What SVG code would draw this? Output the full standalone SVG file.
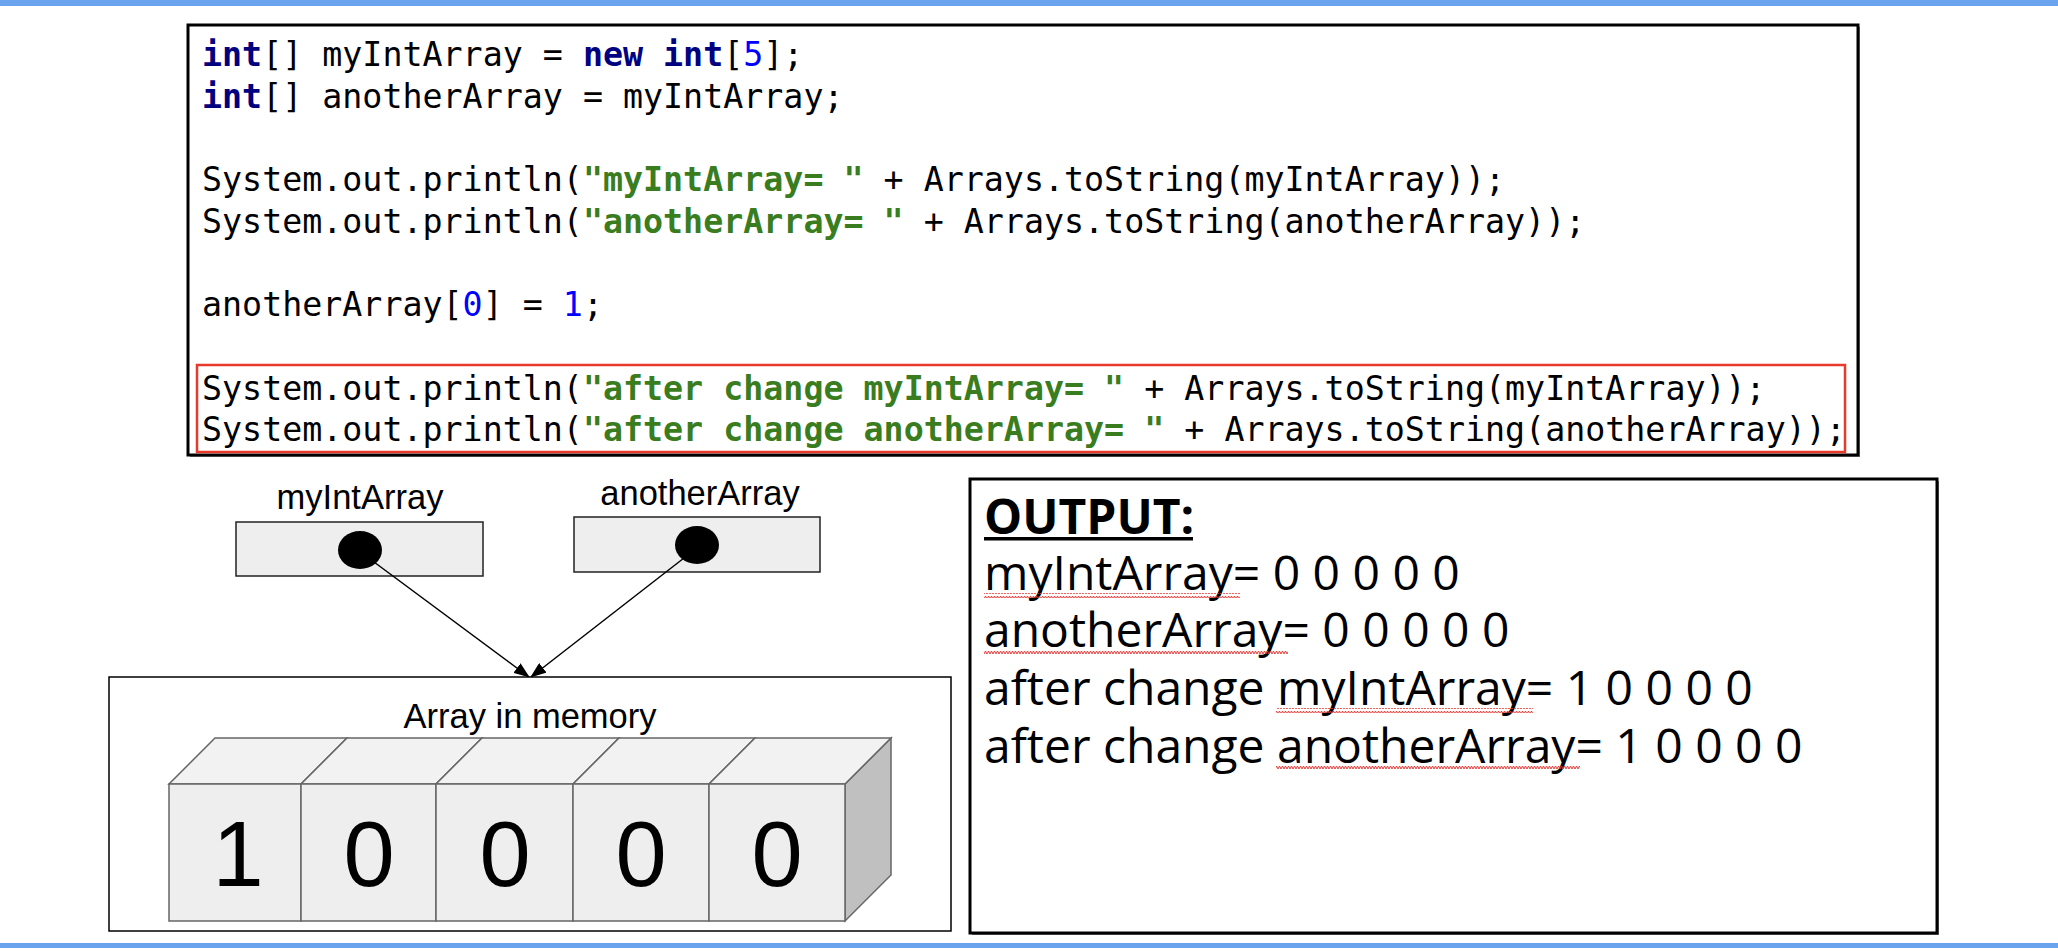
<svg xmlns="http://www.w3.org/2000/svg" width="2058" height="952" viewBox="0 0 2058 952">
<style>
.code{font-family:"DejaVu Sans Mono","Liberation Mono",monospace;font-size:33.3px;fill:#000}
.kw{fill:#000080;font-weight:bold}
.num{fill:#0000ff}
.str{fill:#3a7d1f;font-weight:bold}
.lbl{font-family:"Liberation Sans",Arial,sans-serif;font-size:34.5px;fill:#000;text-anchor:middle}
.big{font-family:"Liberation Sans",Arial,sans-serif;font-size:92px;fill:#000;text-anchor:middle}
.out{font-family:"Open Sans","Noto Sans",sans-serif;font-size:48px;fill:#000}
.var{fill:#eeeeee;stroke:#222;stroke-width:1.5}
.front{fill:#eeeeee;stroke:#666;stroke-width:1.5}
.top{fill:#f2f2f2;stroke:#666;stroke-width:1.5}
.side{fill:#c0c0c0;stroke:#666;stroke-width:1.5}
.conn{stroke:#000;stroke-width:1.5;fill:none}
</style>
<defs>
<marker id="arr" markerUnits="userSpaceOnUse" markerWidth="16" markerHeight="12" refX="15" refY="6" orient="auto">
<path d="M0,0 L16,6 L0,12 Z" fill="#000"/>
</marker>
<pattern id="sq" width="6" height="5" patternUnits="userSpaceOnUse">
<path d="M0,4 L1.5,1 L3,4 L4.5,1 L6,4" fill="none" stroke="#e53935" stroke-width="1"/>
</pattern>
</defs>
<rect x="0" y="0" width="2058" height="952" fill="#fff"/>
<rect x="0" y="0" width="2058" height="6" fill="#6aa4ee"/>
<rect x="0" y="943" width="2058" height="5" fill="#6aa4ee"/>

<g id="code">
<rect x="190" y="27" width="1670" height="430" fill="#888"/>
<rect x="188" y="25" width="1670" height="430" fill="#fff" stroke="#000" stroke-width="3"/>
<rect x="197" y="365" width="1648" height="87" fill="none" stroke="#e8392b" stroke-width="2.5"/>
<text class="code" x="202" y="66"><tspan class="kw">int</tspan>[] myIntArray = <tspan class="kw">new</tspan> <tspan class="kw">int</tspan>[<tspan class="num">5</tspan>];</text>
<text class="code" x="202" y="107.7"><tspan class="kw">int</tspan>[] anotherArray = myIntArray;</text>
<text class="code" x="202" y="191">System.out.println(<tspan class="str">"myIntArray= "</tspan> + Arrays.toString(myIntArray));</text>
<text class="code" x="202" y="232.8">System.out.println(<tspan class="str">"anotherArray= "</tspan> + Arrays.toString(anotherArray));</text>
<text class="code" x="202" y="316.2">anotherArray[<tspan class="num">0</tspan>] = <tspan class="num">1</tspan>;</text>
<text class="code" x="202" y="399.6">System.out.println(<tspan class="str">"after change myIntArray= "</tspan> + Arrays.toString(myIntArray));</text>
<text class="code" x="202" y="441.3">System.out.println(<tspan class="str">"after change anotherArray= "</tspan> + Arrays.toString(anotherArray));</text>
</g>

<g id="myIntArray">
<text class="lbl" x="360" y="509">myIntArray</text>
<rect class="var" x="236" y="522" width="247" height="54"/>
<ellipse cx="360" cy="550" rx="22" ry="19" fill="#000"/>
</g>

<g id="anotherArray">
<text class="lbl" x="700" y="505">anotherArray</text>
<rect class="var" x="574" y="517" width="246" height="55"/>
<ellipse cx="697" cy="545" rx="22" ry="19" fill="#000"/>
</g>

<g id="connectors">
<line class="conn" x1="374" y1="562" x2="529" y2="677" marker-end="url(#arr)"/>
<line class="conn" x1="684" y1="558" x2="531" y2="677" marker-end="url(#arr)"/>
</g>

<g id="memory">
<rect x="109" y="677" width="842" height="254" fill="#fff" stroke="#000" stroke-width="1.5"/>
<text class="lbl" x="530" y="728">Array in memory</text>
<polygon class="side" points="845,784 891,738 891,875 845,921"/>
<polygon class="top" points="169,784 215,738 347,738 301,784"/>
<polygon class="top" points="301,784 347,738 482,738 436,784"/>
<polygon class="top" points="436,784 482,738 619,738 573,784"/>
<polygon class="top" points="573,784 619,738 755,738 709,784"/>
<polygon class="top" points="709,784 755,738 891,738 845,784"/>
<rect class="front" x="169" y="784" width="132" height="137"/>
<rect class="front" x="301" y="784" width="135" height="137"/>
<rect class="front" x="436" y="784" width="137" height="137"/>
<rect class="front" x="573" y="784" width="136" height="137"/>
<rect class="front" x="709" y="784" width="136" height="137"/>
<text class="big" x="238" y="886">1</text>
<text class="big" x="369" y="886">0</text>
<text class="big" x="505" y="886">0</text>
<text class="big" x="641" y="886">0</text>
<text class="big" x="777" y="886">0</text>
</g>

<g id="output">
<rect x="972" y="481" width="967" height="454" fill="#777"/>
<rect x="970" y="479" width="967" height="454" fill="#fff" stroke="#000" stroke-width="3"/>
<text class="out" x="984" y="534" font-weight="bold">OUTPUT:</text>
<rect x="984" y="537" width="209" height="3.5" fill="#000"/>
<text class="out" x="984" y="590">myIntArray= 0 0 0 0 0</text>
<text class="out" x="984" y="647">anotherArray= 0 0 0 0 0</text>
<text class="out" x="984" y="705">after change myIntArray= 1 0 0 0 0</text>
<text class="out" x="984" y="763">after change anotherArray= 1 0 0 0 0</text>
<rect x="984" y="593" width="256" height="5" fill="url(#sq)"/>
<rect x="984" y="650" width="304" height="5" fill="url(#sq)"/>
<rect x="1276" y="708" width="257" height="5" fill="url(#sq)"/>
<rect x="1276" y="766" width="304" height="5" fill="url(#sq)"/>
</g>
</svg>
